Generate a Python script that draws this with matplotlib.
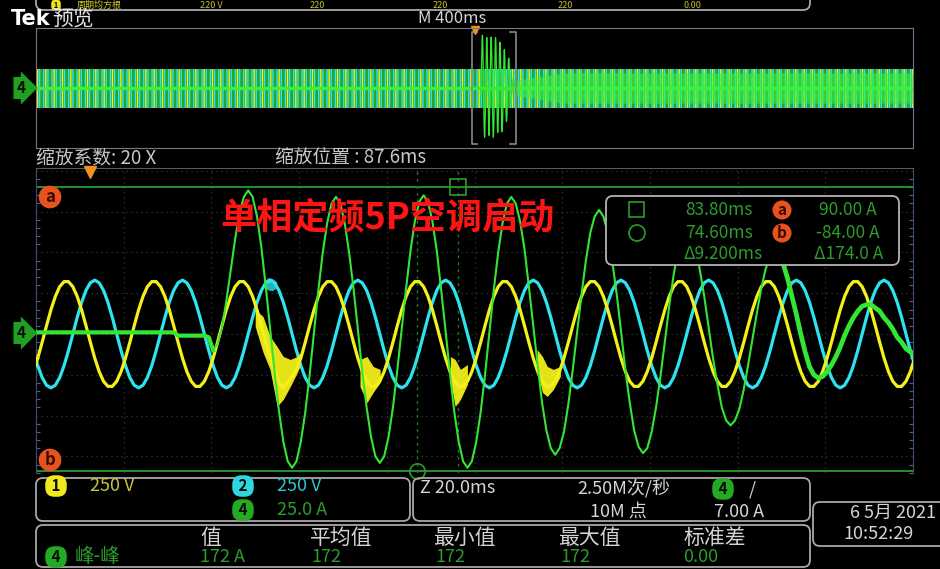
import numpy as np
import matplotlib
matplotlib.use('Agg')
import matplotlib.pyplot as plt
from matplotlib.patches import FancyBboxPatch, Rectangle, Circle
from matplotlib.ticker import MultipleLocator

plt.rcParams['font.family'] = ['Noto Sans CJK SC', 'DejaVu Sans']
plt.rcParams['hatch.linewidth'] = 1.0

W, H = 940, 569

# ---- readings taken off the screen (1 sample per ms in the zoom window) ----
sample_ms = list(range(-13, 190))

# ch1 voltage, V
ch1_volts = [
    -230, -148, -51, 51, 148, 230, 290, 321,
    321, 290, 230, 148, 51, -51, -148, -230, -290, -321, -321, -290, -230, -148, -51, 51, 148, 230, 290, 321,
    321, 290, 230, 148, 51, -51, -148, -230, -290, -321, -321, -290, -230, -148, -51, 51, 148, 230, 290, 321,
    321, 290, 230, 148, 51, -51, -140, -220, -300, -330, -290, -260, -215, -148, -51, 51, 148, 230, 290, 321,
    321, 290, 230, 148, 51, -51, -148, -230, -290, -321, -321, -290, -230, -148, -51, 51, 148, 230, 290, 321,
    321, 290, 230, 148, 51, -51, -148, -230, -290, -321, -321, -290, -230, -148, -51, 51, 148, 230, 290, 321,
    321, 290, 230, 148, 51, -51, -148, -230, -290, -321, -321, -290, -230, -148, -51, 51, 148, 230, 290, 321,
    321, 290, 230, 148, 51, -51, -148, -230, -290, -321, -321, -290, -230, -148, -51, 51, 148, 230, 290, 321,
    321, 290, 230, 148, 51, -51, -148, -230, -290, -321, -321, -290, -230, -148, -51, 51, 148, 230, 290, 321,
    321, 290, 230, 148, 51, -51, -148, -230, -290, -321, -321, -290, -230, -148, -51, 51, 148, 230, 290, 321,
    321, 290, 230, 148, 51, -51, -148, -230, -290, -321, -321, -290, -230, -148, -51,
]

# ch2 voltage, V
ch2_volts = [
    -102, -194, -267, -314, -330, -314, -267, -194, -102, 0, 102, 194, 267, 314,
    330, 314, 267, 194, 102, 0, -102, -194, -267, -314, -330, -314, -267, -194, -102, 0, 102, 194, 267, 314,
    330, 314, 267, 194, 102, 0, -102, -194, -267, -314, -330, -314, -267, -194, -102, 0, 102, 194, 267, 314,
    330, 314, 267, 194, 102, 0, -102, -194, -267, -314, -330, -314, -267, -194, -102, 0, 102, 194, 267, 314,
    330, 314, 267, 194, 102, 0, -102, -194, -267, -314, -330, -314, -267, -194, -102, 0, 102, 194, 267, 314,
    330, 314, 267, 194, 102, 0, -102, -194, -267, -314, -330, -314, -267, -194, -102, 0, 102, 194, 267, 314,
    330, 314, 267, 194, 102, 0, -102, -194, -267, -314, -330, -314, -267, -194, -102, 0, 102, 194, 267, 314,
    330, 314, 267, 194, 102, 0, -102, -194, -267, -314, -330, -314, -267, -194, -102, 0, 102, 194, 267, 314,
    330, 314, 267, 194, 102, 0, -102, -194, -267, -314, -330, -314, -267, -194, -102, 0, 102, 194, 267, 314,
    330, 314, 267, 194, 102, 0, -102, -194, -267, -314, -330, -314, -267, -194, -102, 0, 102, 194, 267, 314,
    330, 314, 267, 194, 102, 0, -102, -194, -267,
]

# ch4 current, A
ch4_amps = [
    1, 1, 1, 1, 1, 1, 1, 1, 1, 1,
    1, 1, 1, 1, 1, 1, 1, 1, 1, 1,
    1, 1, 1, 1, 1, 1, 1, 1, 1, 1,
    1, 1, 1,
    -1, -1, -1, -1, -1, -1, -1, -2,
    -10, -6, 4, 20, 39, 58, 74, 84, 88, 84,
    72, 53, 29, 3, -23, -47, -66, -78, -82, -78,
    -66, -48, -25, 1, 27, 50, 68, 80, 84, 80,
    68, 50, 28, 3, -23, -45, -63, -75, -79, -75,
    -63, -45, -22, 3, 28, 51, 69, 81, 85, 81,
    69, 51, 27, 2, -24, -48, -66, -78, -82, -78,
    -66, -48, -25, 1, 27, 50, 68, 80, 84, 80,
    69, 52, 29, 5, -19, -42, -59, -70, -74, -70,
    -60, -43, -22, 1, 24, 45, 62, 72, 76, 72,
    62, 45, 25, 2, -22, -42, -59, -69, -73, -70,
    -60, -45, -26, -5, 17, 36, 51, 61, 64, 61,
    53, 39, 23, 4, -15, -31, -45, -53, -56, -53,
    -46, -34, -19, -3, 13, 28, 40, 47, 50, 48,
    43, 34, 23, 12, 0, -11, -20, -25, -27, -26,
    -23, -19, -14, -8, -1, 5, 10, 14, 17, 18,
    18, 16, 14, 10, 7, 3, -2, -5, -9, -11,
    -13, -13,
]

# noisy spots on the voltage traces (upper / lower edge of the fuzz)
ch1_noise_ms = [37.7, 39.5, 41.1, 42.7, 44.1, 45.7, 47.3, 47.9, np.nan,
                61.6, 63.2, 64.6, 66.2, np.nan,
                82.2, 83.3, 84.5, 86.1, np.nan,
                102.0, 103.2, 104.3, 105.7, 107.3]
ch1_noise_hi = [147, 104, -18, -80, -141, -159, -141, -116, np.nan,
                -159, -141, -202, -220, np.nan,
                -141, -159, -220, -190, np.nan,
                -98, -141, -202, -220, -202]
ch1_noise_lo = [43, -116, -221, -447, -404, -325, -239, -202, np.nan,
                -325, -423, -361, -300, np.nan,
                -282, -447, -404, -312, np.nan,
                -220, -361, -386, -343, -263]
ch2_noise_ms = [39.5, 40.5, 41.5, 42.5]
ch2_noise_hi = [320, 345, 340, 318]
ch2_noise_lo = [290, 270, 265, 285]

# scope settings
ch1_scale = 250
ch2_scale = 250
ch4_scale = 25.0
zoom_pos_ms = 87.6
zoom_ms_div = 20.0
preview_ms_div = 400
cursor_a_amp = 90.0
cursor_b_amp = -84.0
cursor_sq_ms = 83.8
cursor_circ_ms = 74.6

# preview (whole record) envelopes
preview_ms = [-2000, 2000]
preview_v_peak = [325, 325]
preview_i_ms = [189, 400, 2000]
preview_i_peak = [13, 25, 25]

top_vals = ['220 V', '220', '220', '220', '0.00']
meas_labels = ['值', '平均值', '最小值', '最大值', '标准差']
meas_vals = ['172 A', '172', '172', '172', '0.00']

assert len(ch1_volts) == len(sample_ms)
assert len(ch2_volts) == len(sample_ms)
assert len(ch4_amps) == len(sample_ms)

YEL = '#f4f01a'
CYA = '#2de4ee'
GRN = '#33e633'
DGRN = '#2c9c2c'
ORG = '#e8521e'
TXT = '#d4d4d4'

fig = plt.figure(figsize=(9.4, 5.69), dpi=100, facecolor='black')


def px_axes(x0, y0, x1, y1):
    a = fig.add_axes([x0 / W, 1 - y1 / H, (x1 - x0) / W, (y1 - y0) / H])
    a.set_facecolor('black')
    return a


t = np.array(sample_ms)
cur = np.array(ch4_amps) / ch4_scale

# ---- zoomed main window ----
ax = px_axes(36, 168, 913, 473)
xl = (zoom_pos_ms - 5 * zoom_ms_div, zoom_pos_ms + 5 * zoom_ms_div)
ax.set_xlim(xl)
ax.set_ylim(-3.407, 4.069)
ax.set_xticks(np.arange(xl[0] + zoom_ms_div, xl[1] - 1, zoom_ms_div))
ax.set_yticks(range(-3, 5))
ax.grid(True, color='#3a3a3a', ls=(0, (1, 3)), lw=0.9)
ax.tick_params(which='major', labelleft=False, labelbottom=False, length=0)
ax.yaxis.set_minor_locator(MultipleLocator(0.2))
ax.tick_params(which='minor', left=True, right=True, direction='in',
               length=3, color='#50607e', width=0.8)
for side in ('left', 'right'):
    ax.spines[side].set_color('#3d4e6e')
ax.spines['top'].set_color('#5a5a5a')
ax.spines['bottom'].set_visible(False)

ax.plot(t, np.array(ch2_volts) / ch2_scale, color=CYA, lw=2.3, zorder=3)
ax.fill_between(ch2_noise_ms, np.array(ch2_noise_lo) / ch2_scale,
                np.array(ch2_noise_hi) / ch2_scale, color=CYA, alpha=0.8, lw=0, zorder=3)
ax.plot(t, np.array(ch1_volts) / ch1_scale, color=YEL, lw=2.3, zorder=4)
ax.fill_between(ch1_noise_ms, np.array(ch1_noise_lo) / ch1_scale,
                np.array(ch1_noise_hi) / ch1_scale, color=YEL, alpha=0.95, lw=0, zorder=4)
ax.plot(t, cur, color=GRN, lw=1.5, zorder=5)
ax.plot(t[t <= 28], cur[t <= 28], color=GRN, lw=3.0, zorder=5)
ax.plot(t[t >= 157], cur[t >= 157], color=GRN, lw=3.4, zorder=5)

ax.axhline(cursor_a_amp / ch4_scale, color=DGRN, lw=1.3, zorder=2)
ax.axhline(cursor_b_amp / ch4_scale, color=DGRN, lw=1.3, zorder=2)
ax.axvline(cursor_sq_ms, color='#267a26', lw=1, ls=(0, (2, 3)), zorder=2)
ax.axvline(cursor_circ_ms, color='#267a26', lw=1, ls=(0, (2, 3)), zorder=2)
ax.plot(cursor_sq_ms, cursor_a_amp / ch4_scale, marker='s', ms=11, mfc='none',
        mec=DGRN, mew=1.2, zorder=6)
ax.plot(cursor_circ_ms, cursor_b_amp / ch4_scale, marker='o', ms=11, mfc='none',
        mec=DGRN, mew=1.2, zorder=6, clip_on=False)
ax.plot(0, 3.98, marker='v', ms=9, color='#f0901e', clip_on=False, zorder=7)

# ---- preview of the whole record ----
pv = px_axes(36, 28, 913, 148)
pv.set_xlim(-5 * preview_ms_div, 5 * preview_ms_div)
pv.set_ylim(-4, 4)
pv.set_xticks([])
pv.set_yticks([])
for s in pv.spines.values():
    s.set_color('#6c7c90')
pvt = np.array(preview_ms)
vp = np.array(preview_v_peak) / ch1_scale
pv.fill_between(pvt, -vp, vp, color='#30dc46', alpha=0.75, lw=0)
pv.fill_between(pvt, -vp, vp, facecolor='none', edgecolor=CYA, hatch='||||', lw=0)
pv.fill_between(pvt, -vp, vp, facecolor='none', edgecolor=YEL, hatch='||', lw=0)
ip = np.array(preview_i_peak) / ch4_scale
pv.fill_between(preview_i_ms, -ip, ip, color='#3cf03c', alpha=0.6, lw=0)
pv.axhline(0, color='#3cf03c', lw=2.5)
pv.plot(t, cur, color=GRN, lw=0.9)
arm = 25
for x0, d in ((xl[0], 1), (xl[1], -1)):
    pv.plot([x0 + d * arm, x0, x0, x0 + d * arm], [3.75, 3.75, -3.75, -3.75],
            color='#8a8a8a', lw=1.2)
pv.plot(0, 3.85, marker='v', ms=6, color='#f0901e', clip_on=False)

# ---- screen overlay: labels, readouts, badges ----
scr = fig.add_axes([0, 0, 1, 1])
scr.set_xlim(0, W)
scr.set_ylim(H, 0)
scr.axis('off')
scr.set_zorder(10)


def box(x0, y0, x1, y1, fc='none', ec='#a8a8a8'):
    scr.add_patch(FancyBboxPatch((x0, y0), x1 - x0, y1 - y0,
                                 boxstyle='round,pad=0,rounding_size=7',
                                 fc=fc, ec=ec, lw=1.3))


def txt(x, y, s, color=TXT, fs=13, ha='left', **kw):
    scr.text(x, y, s, color=color, fontsize=fs, ha=ha, va='center', **kw)


def badge(x, y, s, fc, style='round,pad=0.18,rounding_size=0.6', fs=11, color='#0a0a0a'):
    scr.text(x, y, s, ha='center', va='center', fontsize=fs, color=color,
             fontweight='bold', bbox=dict(boxstyle=style, fc=fc, ec='none'))


col_x = [200, 310, 433, 558, 683]

# measurement row at the very top (mostly scrolled off the screen)
box(36, -40, 810, 10)
badge(56, 5, ' 1 ', '#f0e61e', fs=5.5, style='round,pad=0.1,rounding_size=0.5')
txt(77, 5, '周期均方根', '#d2cc2a', 6.5)
for x, v in zip(col_x, top_vals):
    txt(x, 5, v, '#c8c22a', 6.5)

txt(11, 19, 'Tek', '#ffffff', 15, fontweight='bold', family='DejaVu Sans')
txt(52, 19, '预览', '#e6e6e6', 15)
txt(452, 18, f'M {preview_ms_div}ms', fs=12, ha='center')

badge(21, 88, '4', '#20a020', style='rarrow,pad=0.2')
badge(21, 333, '4', '#20a020', style='rarrow,pad=0.2')

txt(36, 158, '缩放系数: 20 X', '#c8c8c8', 13.5)
txt(275, 158, f'缩放位置 : {zoom_pos_ms}ms', '#c8c8c8', 13.5)

scr.text(387, 218, '单相定频5P空调启动', color='#ff1414', fontsize=26,
         fontweight='bold', ha='center', va='center')

badge(50, 197, 'a', ORG, style='circle,pad=0.14', fs=12, color='#3a0a00')
badge(50, 460, 'b', ORG, style='circle,pad=0.14', fs=12, color='#3a0a00')

# cursor readout
box(606, 196, 899, 265, fc='black', ec='#b4b4b4')
scr.add_patch(Rectangle((629, 202), 15, 15, fill=False, ec=DGRN, lw=1.2))
scr.add_patch(Circle((637, 233), 8, fill=False, ec=DGRN, lw=1.2))
txt(753, 210, f'{cursor_sq_ms:.2f}ms', DGRN, 12.5, ha='right')
txt(753, 233, f'{cursor_circ_ms:.2f}ms', DGRN, 12.5, ha='right')
txt(762, 254, f'Δ{cursor_sq_ms - cursor_circ_ms:.3f}ms', DGRN, 12.5, ha='right')
badge(782, 210, 'a', ORG, style='circle,pad=0.1', fs=11, color='#3a0a00')
badge(782, 233, 'b', ORG, style='circle,pad=0.1', fs=11, color='#3a0a00')
txt(877, 210, f'{cursor_a_amp:.2f} A', DGRN, 12.5, ha='right')
txt(880, 233, f'{cursor_b_amp:.2f} A', DGRN, 12.5, ha='right')
txt(883, 254, f'Δ{cursor_a_amp - cursor_b_amp:.1f} A', DGRN, 12.5, ha='right')

# channel settings
box(36, 478, 410, 521)
badge(56, 486, ' 1 ', '#f2e81e')
txt(90, 486, f'{ch1_scale} V', '#c9c43a')
badge(243, 486, ' 2 ', '#2ed6e0')
txt(277, 486, f'{ch2_scale} V', '#32c4cc')
badge(243, 510, ' 4 ', '#22aa22')
txt(277, 510, f'{ch4_scale:.1f} A', DGRN)

# timebase / trigger
box(413, 478, 810, 521)
txt(420, 488, f'Z {zoom_ms_div:.1f}ms')
txt(577, 488, '2.50M次/秒')
txt(590, 512, '10M 点')
badge(723, 489, ' 4 ', '#22aa22')
txt(752, 489, '/', ha='center')
txt(764, 512, '7.00 A', ha='right')

# measurement table
box(36, 525, 810, 567)
for x, s in zip(col_x, meas_labels):
    txt(x, 538, s, fs=15)
badge(56, 557, ' 4 ', '#22aa22')
txt(75, 557, '峰-峰', DGRN, 14)
for x, v in zip([200, 311, 435, 560, 683], meas_vals):
    txt(x, 557, v, DGRN, 13)

# date
box(813, 502, 950, 546)
txt(850, 513, '6 5月 2021', fs=13)
txt(843, 534, '10:52:29', fs=13)

fig.savefig('out.png', dpi=100, facecolor='black')
